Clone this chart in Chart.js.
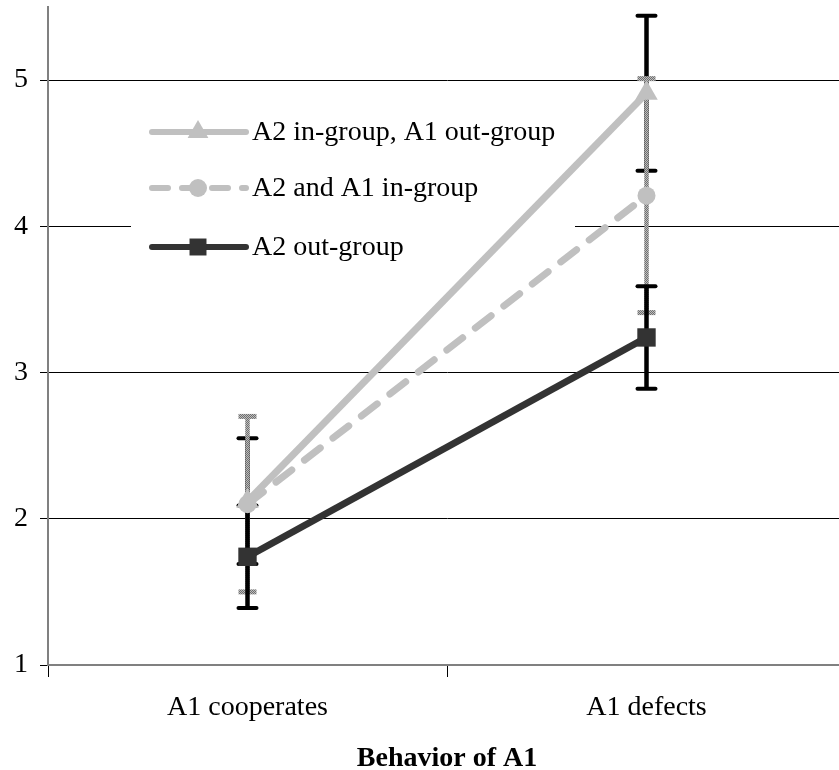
<!DOCTYPE html>
<html>
<head>
<meta charset="utf-8">
<script src="https://cdn.jsdelivr.net/npm/chart.js@4.4.1/dist/chart.umd.min.js"></script>
<style>
  html, body { margin: 0; padding: 0; background: #fff; overflow: hidden; }
  #wrap { width: 846px; height: 770px; }
  #chart { display: block; width: 846px; height: 770px; }
</style>
</head>
<body>
<div id="wrap"><canvas id="chart" width="846" height="770"></canvas></div>
<script>
// donnees
const categories = ["A1 cooperates", "A1 defects"]
const seriesNames = ["A2 in-group, A1 out-group", "A2 and A1 in-group", "A2 out-group"]
const inOutMeans = [2.12, 4.91]
const inOutErrors = [0.43, 0.53]
const bothInMeans = [2.1, 4.21]
const bothInErrors = [0.6, 0.8]
const outMeans = [1.74, 3.24]
const outErrors = [0.35, 0.35]
const yTicks = [1, 2, 3, 4, 5]

const LIGHT = "#c0c0c0"
const DARK = "#333333"
const FONT = "'Liberation Serif', 'Times New Roman', serif"

// motif grise pour les barres d'erreur hachurees
function makeHatch(ctx) {
  const c = document.createElement("canvas")
  c.width = 2
  c.height = 2
  const p = c.getContext("2d")
  p.fillStyle = "#bdbdbd"
  p.fillRect(0, 0, 2, 2)
  p.fillStyle = "#6e6e6e"
  p.fillRect(0, 0, 1, 1)
  p.fillRect(1, 1, 1, 1)
  return ctx.createPattern(c, "repeat")
}

function drawMarker(ctx, style, x, y, r, color) {
  ctx.save()
  ctx.fillStyle = color
  ctx.setLineDash([])
  ctx.beginPath()
  if (style === "triangle") {
    ctx.moveTo(x, y - r)
    ctx.lineTo(x + r * Math.sin(Math.PI * 2 / 3), y + r * 0.5)
    ctx.lineTo(x - r * Math.sin(Math.PI * 2 / 3), y + r * 0.5)
    ctx.closePath()
  } else if (style === "circle") {
    ctx.arc(x, y, r, 0, Math.PI * 2)
  } else {
    const s = r * Math.SQRT1_2
    ctx.rect(x - s, y - s, 2 * s, 2 * s)
  }
  ctx.fill()
  ctx.restore()
}

const errorSets = [
  { means: inOutMeans, errors: inOutErrors, color: "#000" },
  { means: bothInMeans, errors: bothInErrors, color: "hatch" },
  { means: outMeans, errors: outErrors, color: "#000" },
]

const legendItems = [
  { label: seriesNames[0], color: LIGHT, dash: [], marker: "triangle", r: 12 },
  { label: seriesNames[1], color: LIGHT, dash: [16, 14], marker: "circle", r: 9 },
  { label: seriesNames[2], color: DARK, dash: [], marker: "rect", r: 12 },
]

const chartExtras = {
  id: "chartExtras",
  beforeDatasetsDraw(chart) {
    const { ctx } = chart
    const x = chart.scales.x
    const y = chart.scales.y
    const hatch = makeHatch(ctx)

    // cadre blanc de la legende
    ctx.save()
    ctx.fillStyle = "#fff"
    ctx.fillRect(131, 98, 444, 170)
    const rows = [132, 188, 247]
    legendItems.forEach((item, i) => {
      const ly = rows[i]
      ctx.strokeStyle = item.color
      ctx.lineWidth = 6
      ctx.lineCap = "round"
      ctx.setLineDash(item.dash)
      ctx.beginPath()
      ctx.moveTo(152, ly)
      ctx.lineTo(246, ly)
      ctx.stroke()
      drawMarker(ctx, item.marker, 198, ly, item.r, item.color)
      ctx.fillStyle = "#000"
      ctx.font = "28px " + FONT
      ctx.textBaseline = "middle"
      ctx.textAlign = "left"
      ctx.fillText(item.label, 252, ly + 1)
    })
    ctx.restore()

    // barres d'erreur
    errorSets.forEach((set) => {
      set.means.forEach((m, i) => {
        const px = x.getPixelForValue(i)
        const top = y.getPixelForValue(m + set.errors[i])
        const bottom = y.getPixelForValue(m - set.errors[i])
        ctx.save()
        ctx.strokeStyle = set.color === "hatch" ? hatch : set.color
        ctx.setLineDash([])
        ctx.lineWidth = 4.5
        ctx.lineCap = "butt"
        ctx.beginPath()
        ctx.moveTo(px, top)
        ctx.lineTo(px, bottom)
        ctx.stroke()
        ctx.lineWidth = set.color === "hatch" ? 5 : 4
        ctx.lineCap = set.color === "hatch" ? "butt" : "round"
        ;[top, bottom].forEach((cy) => {
          ctx.beginPath()
          ctx.moveTo(px - 9, cy)
          ctx.lineTo(px + 9, cy)
          ctx.stroke()
        })
        ctx.restore()
      })
    })
  },
}

const tickFont = { family: FONT, size: 28 }

new Chart(document.getElementById("chart"), {
  type: "line",
  data: {
    labels: categories,
    datasets: [
      {
        label: seriesNames[0],
        data: inOutMeans,
        borderColor: LIGHT,
        backgroundColor: LIGHT,
        borderWidth: 7,
        pointStyle: "triangle",
        pointRadius: 13,
        pointBorderWidth: 0,
      },
      {
        label: seriesNames[1],
        data: bothInMeans,
        borderColor: LIGHT,
        backgroundColor: LIGHT,
        borderWidth: 7,
        borderDash: [20, 16],
        borderCapStyle: "round",
        pointStyle: "circle",
        pointRadius: 9,
        pointBorderWidth: 0,
      },
      {
        label: seriesNames[2],
        data: outMeans,
        borderColor: DARK,
        backgroundColor: DARK,
        borderWidth: 7,
        pointStyle: "rect",
        pointRadius: 13,
        pointBorderWidth: 0,
      },
    ],
  },
  options: {
    responsive: false,
    animation: false,
    layout: { autoPadding: false, padding: { top: 7, left: 0, right: 0, bottom: 0 } },
    plugins: {
      legend: { display: false },
      tooltip: { enabled: false },
    },
    scales: {
      x: {
        offset: true,
        grid: { offset: true, drawOnChartArea: false, tickLength: 12, color: "#000", lineWidth: 1 },
        border: { color: "#808080", width: 2 },
        ticks: { font: tickFont, color: "#000", padding: 14, maxRotation: 0 },
        title: {
          display: true,
          text: "Behavior of A1",
          color: "#000",
          font: { family: FONT, size: 28, weight: "bold", lineHeight: 0.8 },
          padding: { top: 0, bottom: 0 },
        },
        afterFit: (scale) => {
          scale.height = 105
          scale.paddingLeft = 0
          scale.paddingRight = 0
        },
      },
      y: {
        min: 1,
        max: 5.5,
        afterBuildTicks: (scale) => {
          scale.ticks = yTicks.map((v) => ({ value: v }))
        },
        grid: { color: "#000", lineWidth: 1, tickLength: 8 },
        border: { color: "#808080", width: 2 },
        ticks: { font: tickFont, color: "#000", padding: 12 },
        afterFit: (scale) => {
          scale.width = 48
          scale.paddingTop = 0
          scale.paddingBottom = 0
        },
      },
    },
  },
  plugins: [chartExtras],
})
</script>
</body>
</html>
